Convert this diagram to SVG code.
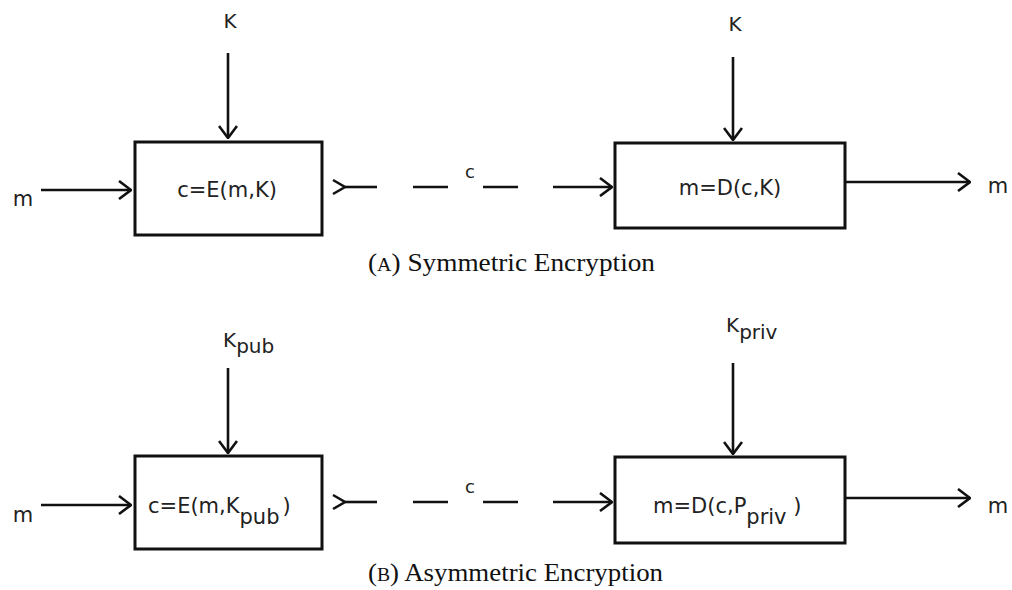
<svg xmlns="http://www.w3.org/2000/svg" width="1012" height="590" viewBox="0 0 1012 590">
<style>
.box{fill:#fff;stroke:#111;stroke-width:3}
.ln{stroke:#111;stroke-width:2.6;fill:none}
.lbl{font-family:"DejaVu Sans",sans-serif;font-size:21px;fill:#222}
.key{font-family:"DejaVu Sans",sans-serif;font-size:20px;fill:#222}
.cap{font-family:"Liberation Serif","Times New Roman",serif;font-size:26px;fill:#111}
</style>
<defs>
<marker id="ah" viewBox="0 0 14 20" refX="13" refY="10" markerWidth="14" markerHeight="20" markerUnits="userSpaceOnUse" orient="auto">
<path d="M1,1 L13,10 L1,19" fill="none" stroke="#111" stroke-width="2.6"/>
</marker>
</defs>
<g id="connectors">
<!-- panel A -->
<line class="ln" x1="228" y1="53" x2="228" y2="138" marker-end="url(#ah)"/>
<line class="ln" x1="41" y1="190" x2="131" y2="190" marker-end="url(#ah)"/>
<path class="ln" d="M333,180 L345,187 L333,194"/>
<line class="ln" x1="345" y1="187" x2="377" y2="187"/>
<line class="ln" x1="413" y1="187" x2="448" y2="187"/>
<line class="ln" x1="483" y1="187" x2="518" y2="187"/>
<line class="ln" x1="553" y1="187" x2="612" y2="187" marker-end="url(#ah)"/>
<line class="ln" x1="733" y1="57" x2="733" y2="140" marker-end="url(#ah)"/>
<line class="ln" x1="846" y1="182" x2="970" y2="182" marker-end="url(#ah)"/>
<!-- panel B -->
<line class="ln" x1="228" y1="368" x2="228" y2="453" marker-end="url(#ah)"/>
<line class="ln" x1="41" y1="505" x2="131" y2="505" marker-end="url(#ah)"/>
<path class="ln" d="M333,495 L345,502 L333,509"/>
<line class="ln" x1="345" y1="502" x2="377" y2="502"/>
<line class="ln" x1="413" y1="502" x2="448" y2="502"/>
<line class="ln" x1="483" y1="502" x2="518" y2="502"/>
<line class="ln" x1="553" y1="502" x2="612" y2="502" marker-end="url(#ah)"/>
<line class="ln" x1="733" y1="363" x2="733" y2="454" marker-end="url(#ah)"/>
<line class="ln" x1="846" y1="498" x2="970" y2="498" marker-end="url(#ah)"/>
</g>
<g id="labels">
<text class="key" x="230" y="28" text-anchor="middle">K</text>
<text class="lbl" x="23" y="206" text-anchor="middle">m</text>
<text class="lbl" x="470" y="178" text-anchor="middle" style="font-size:18px">c</text>
<text class="key" x="735" y="31" text-anchor="middle">K</text>
<text class="lbl" x="998" y="193" text-anchor="middle">m</text>
<text class="key" x="223" y="347">K<tspan dy="6">pub</tspan></text>
<text class="lbl" x="23" y="522" text-anchor="middle">m</text>
<text class="lbl" x="470" y="493" text-anchor="middle" style="font-size:18px">c</text>
<text class="key" x="726" y="332">K<tspan dy="7">priv</tspan></text>
<text class="lbl" x="998" y="513" text-anchor="middle">m</text>
</g>
<g id="enc1">
<rect class="box" x="135" y="142" width="187" height="93"/>
<text class="lbl" x="227" y="197" text-anchor="middle">c=E(m,K)</text>
</g>
<g id="dec1">
<rect class="box" x="615" y="143" width="230" height="85"/>
<text class="lbl" x="730" y="195" text-anchor="middle">m=D(c,K)</text>
</g>
<g id="enc2">
<rect class="box" x="135" y="456" width="187" height="93"/>
<text class="lbl" x="148" y="513">c=E(m,K<tspan dy="11">pub</tspan><tspan dy="-11" dx="3">)</tspan></text>
</g>
<g id="dec2">
<rect class="box" x="615" y="457" width="230" height="86"/>
<text class="lbl" x="653" y="513">m=D(c,P<tspan dy="11">priv</tspan><tspan dy="-11"> )</tspan></text>
</g>
<g id="captions">
<text class="cap" x="368" y="271" textLength="287" lengthAdjust="spacingAndGlyphs">(<tspan style="font-size:19px">A</tspan>) Symmetric Encryption</text>
<text class="cap" x="368" y="581" textLength="295" lengthAdjust="spacingAndGlyphs">(<tspan style="font-size:19px">B</tspan>) Asymmetric Encryption</text>
</g>
</svg>
